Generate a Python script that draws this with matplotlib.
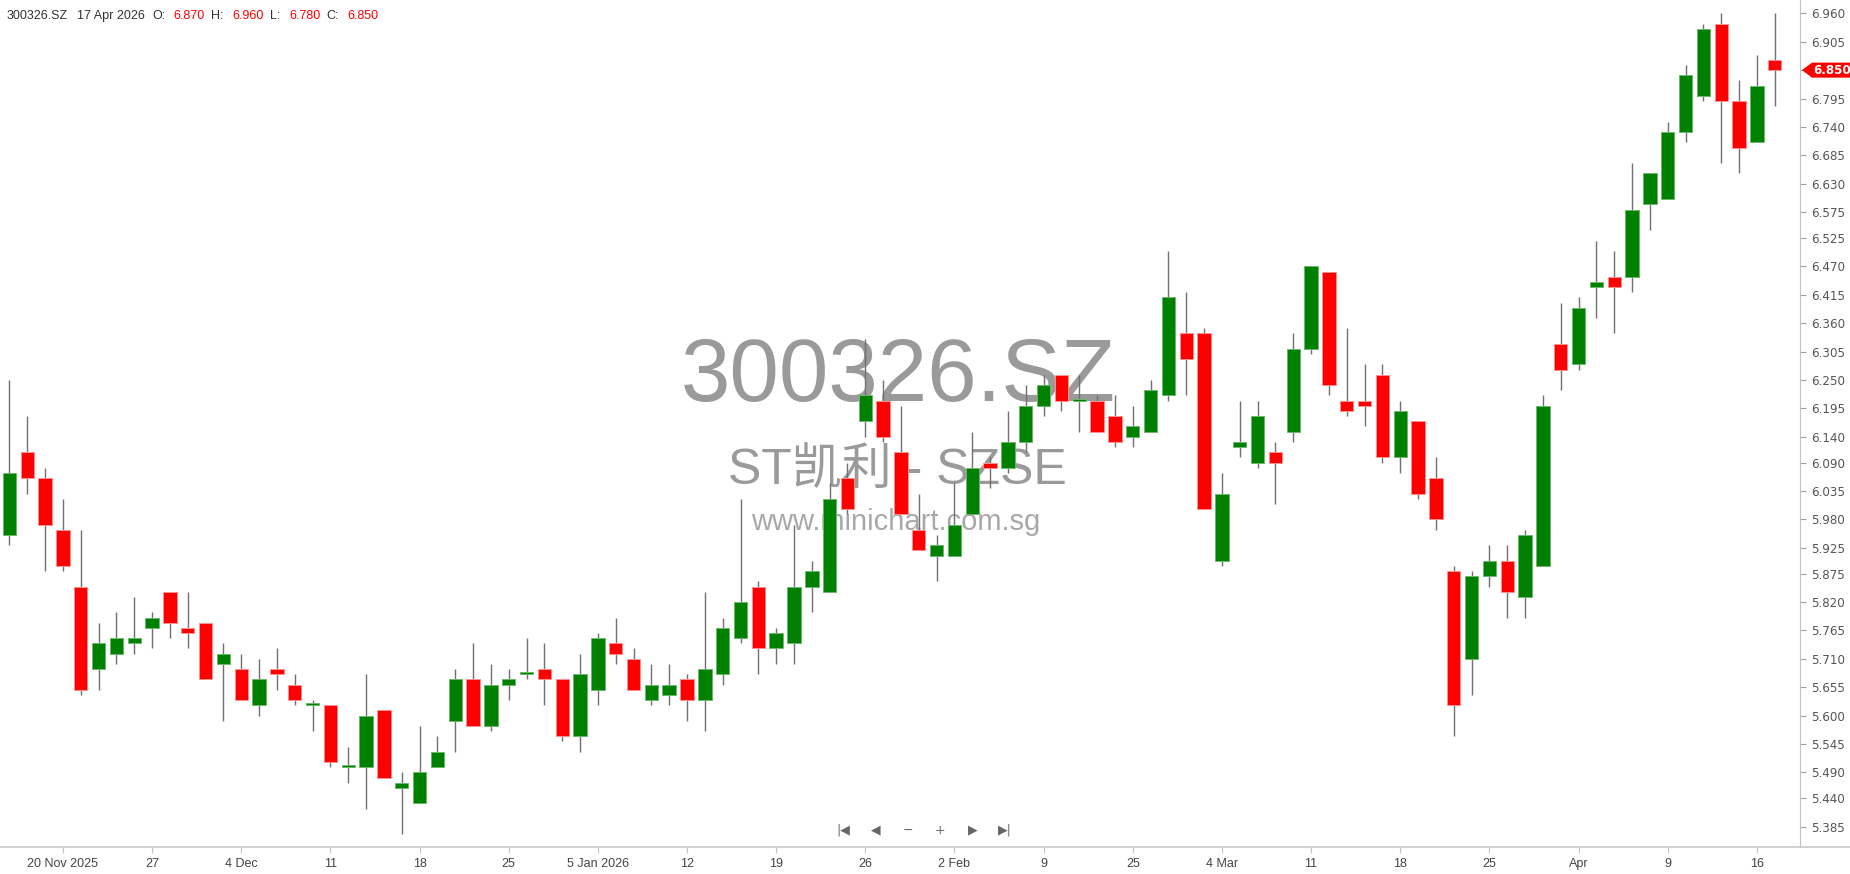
import matplotlib.pyplot as plt
import numpy as np
from matplotlib.lines import Line2D
from matplotlib.patches import Polygon

plt.rcParams['font.family'] = ['Liberation Sans', 'Noto Sans CJK SC', 'DejaVu Sans']

# daily OHLC, 17 Nov 2025 .. 17 Apr 2026 (100 trading days)
opens = [5.95, 6.11, 6.06, 5.96, 5.85, 5.69, 5.72, 5.74, 5.77, 5.84,
         5.77, 5.78, 5.70, 5.69, 5.62, 5.69, 5.66, 5.62, 5.62, 5.50,
         5.50, 5.61, 5.46, 5.43, 5.50, 5.59, 5.67, 5.58, 5.66, 5.68,
         5.69, 5.67, 5.56, 5.65, 5.74, 5.71, 5.63, 5.64, 5.67, 5.63,
         5.68, 5.75, 5.85, 5.73, 5.74, 5.85, 5.84, 6.06, 6.17, 6.21,
         6.11, 5.96, 5.91, 5.91, 5.99, 6.09, 6.08, 6.13, 6.20, 6.26,
         6.21, 6.21, 6.18, 6.14, 6.15, 6.22, 6.34, 6.34, 5.90, 6.12,
         6.09, 6.11, 6.15, 6.31, 6.46, 6.21, 6.21, 6.26, 6.10, 6.17,
         6.06, 5.88, 5.71, 5.87, 5.90, 5.83, 5.89, 6.32, 6.28, 6.43,
         6.45, 6.45, 6.59, 6.60, 6.73, 6.80, 6.94, 6.79, 6.71, 6.87]
highs = [6.25, 6.18, 6.08, 6.02, 5.96, 5.78, 5.80, 5.83, 5.80, 5.84,
         5.84, 5.78, 5.74, 5.72, 5.71, 5.73, 5.68, 5.63, 5.62, 5.54,
         5.68, 5.61, 5.49, 5.58, 5.56, 5.69, 5.74, 5.70, 5.69, 5.75,
         5.74, 5.67, 5.72, 5.76, 5.79, 5.73, 5.70, 5.70, 5.68, 5.84,
         5.79, 6.02, 5.86, 5.77, 5.97, 5.90, 6.05, 6.09, 6.33, 6.25,
         6.20, 6.03, 5.95, 6.05, 6.15, 6.10, 6.19, 6.24, 6.26, 6.26,
         6.26, 6.22, 6.22, 6.20, 6.25, 6.50, 6.42, 6.35, 6.07, 6.21,
         6.21, 6.13, 6.34, 6.47, 6.46, 6.35, 6.28, 6.28, 6.21, 6.17,
         6.10, 5.89, 5.88, 5.93, 5.93, 5.96, 6.22, 6.40, 6.41, 6.52,
         6.50, 6.67, 6.65, 6.75, 6.86, 6.94, 6.96, 6.83, 6.88, 6.96]
lows = [5.93, 6.03, 5.88, 5.88, 5.64, 5.65, 5.70, 5.72, 5.73, 5.75,
        5.73, 5.67, 5.59, 5.63, 5.60, 5.65, 5.62, 5.57, 5.50, 5.47,
        5.42, 5.48, 5.37, 5.43, 5.50, 5.53, 5.58, 5.57, 5.63, 5.67,
        5.62, 5.55, 5.53, 5.62, 5.70, 5.65, 5.62, 5.62, 5.59, 5.57,
        5.66, 5.74, 5.68, 5.70, 5.70, 5.80, 5.84, 5.99, 6.14, 6.13,
        5.99, 5.92, 5.86, 5.91, 5.99, 6.04, 6.07, 6.11, 6.18, 6.19,
        6.15, 6.15, 6.12, 6.12, 6.15, 6.21, 6.22, 6.00, 5.89, 6.10,
        6.08, 6.01, 6.13, 6.30, 6.22, 6.18, 6.16, 6.09, 6.07, 6.02,
        5.96, 5.56, 5.64, 5.85, 5.79, 5.79, 5.89, 6.23, 6.27, 6.37,
        6.34, 6.42, 6.54, 6.60, 6.71, 6.79, 6.67, 6.65, 6.71, 6.78]
closes = [6.07, 6.06, 5.97, 5.89, 5.65, 5.74, 5.75, 5.75, 5.79, 5.78,
          5.76, 5.67, 5.72, 5.63, 5.67, 5.68, 5.63, 5.62, 5.51, 5.50,
          5.60, 5.48, 5.47, 5.49, 5.53, 5.67, 5.58, 5.66, 5.67, 5.68,
          5.67, 5.56, 5.68, 5.75, 5.72, 5.65, 5.66, 5.66, 5.63, 5.69,
          5.77, 5.82, 5.73, 5.76, 5.85, 5.88, 6.02, 6.00, 6.22, 6.14,
          5.99, 5.92, 5.93, 5.97, 6.08, 6.08, 6.13, 6.20, 6.24, 6.21,
          6.21, 6.15, 6.13, 6.16, 6.23, 6.41, 6.29, 6.00, 6.03, 6.13,
          6.18, 6.09, 6.31, 6.47, 6.24, 6.19, 6.20, 6.10, 6.19, 6.03,
          5.98, 5.62, 5.87, 5.90, 5.84, 5.95, 6.20, 6.27, 6.39, 6.44,
          6.43, 6.58, 6.65, 6.73, 6.84, 6.93, 6.79, 6.70, 6.82, 6.85]

tick_bars = [3, 8, 13, 18, 23, 28, 33, 38, 43, 48,
             53, 58, 63, 68, 73, 78, 83, 88, 93, 98]
tick_labels = ['20 Nov 2025', '27', '4 Dec', '11', '18', '25', '5 Jan 2026',
               '12', '19', '26', '2 Feb', '9', '25', '4 Mar', '11', '18',
               '25', 'Apr', '9', '16']
price_ticks = [5.385, 5.440, 5.490, 5.545, 5.600, 5.655, 5.710, 5.765,
               5.820, 5.875, 5.925, 5.980, 6.035, 6.090, 6.140, 6.195,
               6.250, 6.305, 6.360, 6.415, 6.470, 6.525, 6.575, 6.630,
               6.685, 6.740, 6.795, 6.850, 6.905, 6.960]

W, H = 1850, 874
fig = plt.figure(figsize=(W / 100, H / 100), dpi=100)
ax = fig.add_axes([0, 1 - 847 / H, 1800 / W, 847 / H])

o = np.array(opens)
c = np.array(closes)
x = np.arange(len(o))
up = c >= o

# wicks then bodies
ax.vlines(x, lows, highs, color='#707070', lw=1.0, zorder=2)
bottoms = np.minimum(o, c)
heights = np.maximum(np.abs(c - o), 0.004)
face = np.where(up, '#008000', '#ff0000')
edge = np.where(up, '#6cb86c', '#ff9090')
ax.bar(x, heights, 0.75, bottom=bottoms, color=face, edgecolor=edge,
       linewidth=0.7, zorder=3)

ax.set_xlim(-0.53, 100.42)
ax.set_ylim(5.3456, 6.9858)

# axes styling
for s in ['left', 'top', 'bottom']:
    ax.spines[s].set_visible(False)
ax.spines['right'].set_color('#c4c4c4')
ax.yaxis.tick_right()
# the tick at the last close sits under the price marker
ylabels = ['' if abs(p - closes[-1]) < 1e-9 else '%.3f' % p for p in price_ticks]
ax.set_yticks(price_ticks, ylabels)
ax.tick_params(axis='y', direction='out', length=4, color='#a0a0a0',
               labelcolor='#555555', labelsize=8.6, pad=4)
for lbl in ax.get_yticklabels():
    lbl.set_family('DejaVu Sans')
ax.set_xticks(tick_bars, tick_labels)
ax.tick_params(axis='x', direction='out', length=4, color='#c4c4c4',
               labelcolor='#444444', labelsize=9, pad=4)
fig.add_artist(Line2D([0, 1], [1 - 847 / H] * 2, transform=fig.transFigure,
                      color='#c8c8c8', lw=1.2))

# watermark
ax.text(898 / W, 1 - 401 / H, '300326.SZ', transform=fig.transFigure,
        ha='center', va='baseline', fontsize=64, color='#9a9a9a', zorder=1)
ax.text(897 / W, 1 - 484 / H, 'ST凯利 - SZSE', transform=fig.transFigure,
        ha='center', va='baseline', fontsize=36, color='#9a9a9a', zorder=1)
ax.text(896 / W, 1 - 530 / H, 'www.minichart.com.sg', transform=fig.transFigure,
        ha='center', va='baseline', fontsize=21, color='#a8a8a8', zorder=1)

# header
hy = 1 - 16 / H
fig.text(7 / W, hy, '300326.SZ', fontsize=9, color='#333333', va='center')
fig.text(77 / W, hy, '17 Apr 2026', fontsize=9, color='#333333', va='center')
parts = [(152, 'O:', '#333333'), (173, '%.3f' % opens[-1], '#ff0000'),
         (211, 'H:', '#333333'), (232, '%.3f' % highs[-1], '#ff0000'),
         (270, 'L:', '#333333'), (289, '%.3f' % lows[-1], '#ff0000'),
         (326, 'C:', '#333333'), (347, '%.3f' % closes[-1], '#ff0000')]
for px, txt, col in parts:
    fig.text(px / W, hy, txt, fontsize=9, color=col, va='center')

# last price marker on the price axis
ly = fig.transFigure.inverted().transform(ax.transData.transform((0, closes[-1])))[1]
hh = 7.5 / H
tip = 1802 / W
fig.patches.append(Polygon([[tip, ly], [1812 / W, ly + hh], [1.0, ly + hh],
                            [1.0, ly - hh], [1812 / W, ly - hh]],
                           closed=True, transform=fig.transFigure,
                           facecolor='#ff0000', edgecolor='none'))
fig.text(1813 / W, ly, '%.3f' % closes[-1], fontsize=8.6, color='white',
         weight='bold', va='center', family='DejaVu Sans')

# navigation buttons
nav = ['|◀', '◀', '−', '+', '▶', '▶|']
for i, s in enumerate(nav):
    fig.text((843 + 32.4 * i) / W, 1 - 830 / H, s, fontsize=9, color='#666666',
             ha='center', va='center', family='DejaVu Sans')

fig.savefig('out.png', dpi=100)
